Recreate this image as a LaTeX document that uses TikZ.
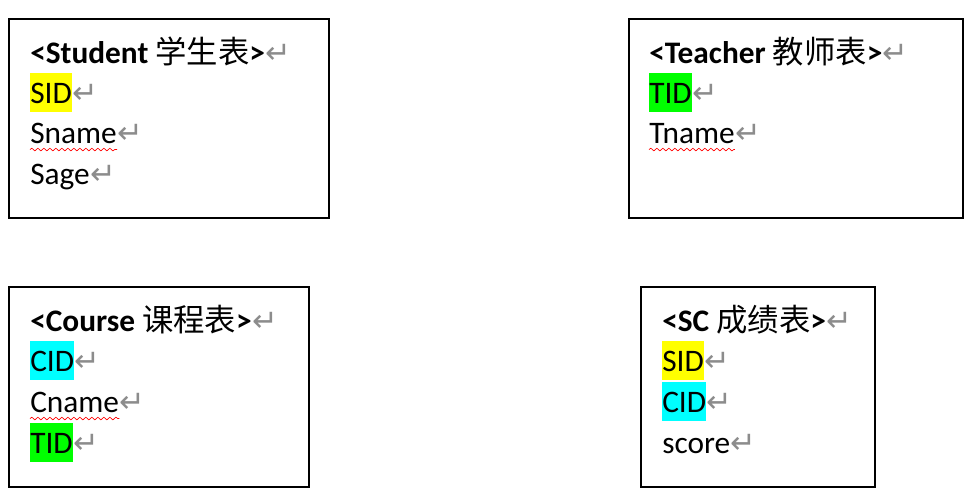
\documentclass[tikz,border=0pt]{standalone}
\usepackage{fontspec}
\setmainfont{Carlito}
\newfontfamily\cjk{Noto Sans CJK SC}
\newfontfamily\retsym{DejaVu Sans}
\usetikzlibrary{decorations.pathmorphing}
\definecolor{hlcyan}{RGB}{0,255,255}
\definecolor{hlgreen}{RGB}{0,255,0}
\definecolor{hlyellow}{RGB}{255,255,0}
\newcommand{\fieldfont}{\fontsize{23.5pt}{28pt}\selectfont}
\tikzset{
  tbl/.style={draw, line width=1.5pt},
  field/.style={anchor=base west, inner sep=0pt, font=\fieldfont},
  hl/.style={fill=#1, text height=22.5pt, text depth=6.75pt},
  ret/.style={anchor=base west, inner sep=0pt, text=gray!90, font=\retsym\fontsize{23pt}{26pt}\selectfont},
  spell/.style={red, line width=0.5pt, decorate, decoration={snake, amplitude=1pt, segment length=4.5pt}}
}
\begin{document}
\begin{tikzpicture}[x=0.75pt, y=-0.75pt]
  \useasboundingbox (0,0) rectangle (976,497);

  % Student
  \draw[tbl] (9,19) rectangle (329,218);
  \node[field] (stu-title) at (30,63) {\textbf{<Student} {\cjk 学生表}\textbf{>}};
  \node[field, hl=hlyellow] (stu-sid) at (30,103) {SID};
  \node[field] (stu-sname) at (30,143) {Sname};
  \node[field] (stu-sage) at (30,184) {Sage};
  \node[ret] (stu-title-r) at (stu-title.base east) {↵};
  \node[ret] (stu-sid-r) at (stu-sid.base east) {↵};
  \node[ret] (stu-sname-r) at (stu-sname.base east) {↵};
  \node[ret] (stu-sage-r) at (stu-sage.base east) {↵};
  \draw[spell] ([yshift=-4.9pt]stu-sname.base west) -- ([yshift=-4.9pt]stu-sname.base east);

  % Teacher
  \draw[tbl] (629,19) rectangle (963,218);
  \node[field] (tea-title) at (649,63) {\textbf{<Teacher} {\cjk 教师表}\textbf{>}};
  \node[field, hl=hlgreen] (tea-tid) at (649,103) {TID};
  \node[field] (tea-tname) at (649,143) {Tname};
  \node[ret] (tea-title-r) at (tea-title.base east) {↵};
  \node[ret] (tea-tid-r) at (tea-tid.base east) {↵};
  \node[ret] (tea-tname-r) at (tea-tname.base east) {↵};
  \draw[spell] ([yshift=-4.9pt]tea-tname.base west) -- ([yshift=-4.9pt]tea-tname.base east);

  % Course
  \draw[tbl] (9,287) rectangle (309,487);
  \node[field] (cou-title) at (30,331) {\textbf{<Course} {\cjk 课程表}\textbf{>}};
  \node[field, hl=hlcyan] (cou-cid) at (30,371) {CID};
  \node[field] (cou-cname) at (30,412) {Cname};
  \node[field, hl=hlgreen] (cou-tid) at (30,453) {TID};
  \node[ret] (cou-title-r) at (cou-title.base east) {↵};
  \node[ret] (cou-cid-r) at (cou-cid.base east) {↵};
  \node[ret] (cou-cname-r) at (cou-cname.base east) {↵};
  \node[ret] (cou-tid-r) at (cou-tid.base east) {↵};
  \draw[spell] ([yshift=-4.9pt]cou-cname.base west) -- ([yshift=-4.9pt]cou-cname.base east);

  % SC
  \draw[tbl] (641,287) rectangle (875,487);
  \node[field] (sc-title) at (662,331) {\textbf{<SC} {\cjk 成绩表}\textbf{>}};
  \node[field, hl=hlyellow] (sc-sid) at (662,371) {SID};
  \node[field, hl=hlcyan] (sc-cid) at (662,412) {CID};
  \node[field] (sc-score) at (662,453) {score};
  \node[ret] (sc-title-r) at (sc-title.base east) {↵};
  \node[ret] (sc-sid-r) at (sc-sid.base east) {↵};
  \node[ret] (sc-cid-r) at (sc-cid.base east) {↵};
  \node[ret] (sc-score-r) at (sc-score.base east) {↵};
\end{tikzpicture}
\end{document}
